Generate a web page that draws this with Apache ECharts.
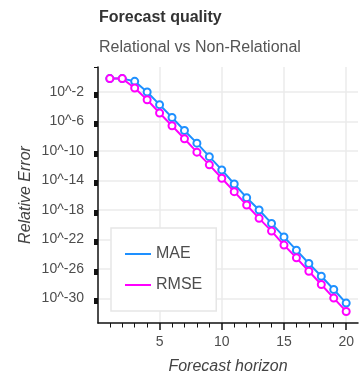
<!DOCTYPE html>
<html>
<head>
<meta charset="utf-8">
<script src="https://cdn.jsdelivr.net/npm/echarts@6/dist/echarts.min.js"></script>
<style>
html,body{margin:0;padding:0;background:#fff;}
#chart{width:362px;height:375px;}
</style>
</head>
<body>
<div id="chart"></div>
<script>
// ---- data ----
const horizons = [1, 2, 3, 4, 5, 6, 7, 8, 9, 10, 11, 12, 13, 14, 15, 16, 17, 18, 19, 20];
const maeValues = [6.5e-1, 6.5e-1, 2.8e-1, 1.0e-2, 1.9e-4, 3.5e-6, 6.0e-8, 1.15e-9, 1.7e-11, 2.7e-13,
                   3.3e-15, 4.6e-17, 9.8e-19, 1.5e-20, 2.2e-22, 3.5e-24, 5.4e-26, 1.0e-27, 1.6e-29, 2.3e-31];
const rmseValues = [6.5e-1, 6.5e-1, 3.5e-2, 8.9e-4, 1.4e-5, 2.6e-7, 4.5e-9, 6.9e-11, 1.3e-12, 2.0e-14,
                    3.0e-16, 4.7e-18, 7.2e-20, 1.35e-21, 1.7e-23, 3.2e-25, 4.9e-27, 7.6e-29, 1.1e-30, 1.7e-32];
const seriesNames = ['MAE', 'RMSE'];
const yTickExponents = [-30, -26, -22, -18, -14, -10, -6, -2];
const xTickLabels = [5, 10, 15, 20];

// ---- layout / style ----
const FONT = "'Liberation Sans', Arial, Helvetica, sans-serif";
const COLORS = ['#1E90FF', '#FF00FF'];
const X_MIN = 0.05, X_MAX = 20.95;
const Y_MIN = 4.6e-34, Y_MAX = 24.5;

const yMajor = yTickExponents.map(e => Math.pow(10, e));
const yMinor = [];
yTickExponents.concat([2]).forEach(e => {
  for (let k = 2; k <= 9; k++) yMinor.push(k * Math.pow(10, e - 1));
});
const yAllTicks = yMajor.concat(yMinor);
const xMinor = horizons.filter(h => xTickLabels.indexOf(h) < 0);

const chart = echarts.init(document.getElementById('chart'), null, {renderer: 'canvas'});

function makeSeries(name, values, color) {
  return {
    name: name,
    type: 'line',
    xAxisIndex: 0,
    yAxisIndex: 0,
    data: horizons.map((h, i) => [h, values[i]]),
    symbol: 'emptyCircle',
    symbolSize: 7,
    color: color,
    lineStyle: {width: 2, color: color},
    itemStyle: {color: color, borderWidth: 2},
    emphasis: {disabled: true}
  };
}

const option = {
  animation: false,
  textStyle: {fontFamily: FONT},
  title: [
    {text: 'Forecast quality', left: 99, top: 10, padding: 0,
     textStyle: {fontFamily: FONT, fontSize: 16, fontWeight: 'bold', color: '#333'}},
    {text: 'Relational vs Non-Relational', left: 99, top: 40, padding: 0,
     textStyle: {fontFamily: FONT, fontSize: 16, fontWeight: 'normal', color: '#555'}}
  ],
  grid: {left: 98, right: 4, top: 67, bottom: 52, containLabel: false, outerBoundsMode: 'none'},
  legend: {
    data: seriesNames,
    orient: 'vertical',
    left: 111,
    top: 228,
    icon: 'rect',
    itemWidth: 26,
    itemHeight: 2,
    itemGap: 15,
    padding: [18, 14, 18, 14],
    backgroundColor: '#fff',
    borderColor: '#e6e6e6',
    borderWidth: 1.5,
    textStyle: {fontFamily: FONT, fontSize: 16, color: '#4d4d4d'}
  },
  xAxis: [
    {
      type: 'value', min: X_MIN, max: X_MAX, position: 'bottom',
      name: 'Forecast horizon', nameLocation: 'middle', nameGap: 36, nameMoveOverlap: false,
      nameTextStyle: {fontFamily: FONT, fontStyle: 'italic', fontSize: 16, color: '#444'},
      axisLine: {show: true, onZero: false, lineStyle: {color: '#111', width: 1.5}},
      axisTick: {show: true, customValues: xTickLabels, length: 7, lineStyle: {color: '#111', width: 1.5}},
      axisLabel: {customValues: xTickLabels, margin: 12, fontFamily: FONT, fontSize: 14, color: '#4d4d4d'},
      splitLine: {show: true, lineStyle: {color: '#ebebeb', width: 1.5}}
    },
    {
      type: 'value', min: X_MIN, max: X_MAX, position: 'bottom',
      axisLine: {show: false, onZero: false},
      axisTick: {show: true, customValues: xMinor, length: 4.5, lineStyle: {color: '#111', width: 1}},
      axisLabel: {show: false},
      splitLine: {show: false}
    }
  ],
  yAxis: [
    {
      type: 'log', logBase: 10, min: Y_MIN, max: Y_MAX, position: 'left',
      name: 'Relative Error', nameLocation: 'middle', nameGap: 64, nameMoveOverlap: false,
      nameTextStyle: {fontFamily: FONT, fontStyle: 'italic', fontSize: 16, color: '#444'},
      axisLine: {show: true, onZero: false, lineStyle: {color: '#111', width: 1.5}},
      axisTick: {show: false, customValues: yMajor},
      axisLabel: {customValues: yMajor, margin: 14, fontFamily: FONT, fontSize: 14, color: '#4d4d4d',
                  formatter: v => '10^' + Math.round(Math.log10(v))},
      splitLine: {show: true, lineStyle: {color: '#ebebeb', width: 1.5}},
      minorTick: {show: false},
      minorSplitLine: {show: false}
    },
    {
      type: 'log', logBase: 10, min: Y_MIN, max: Y_MAX, position: 'left',
      axisLine: {show: false, onZero: false},
      axisTick: {show: true, customValues: yAllTicks, length: 4, lineStyle: {color: '#111', width: 1}},
      axisLabel: {show: false},
      splitLine: {show: false}
    }
  ],
  series: [
    makeSeries(seriesNames[0], maeValues, COLORS[0]),
    makeSeries(seriesNames[1], rmseValues, COLORS[1])
  ]
};
chart.setOption(option);
</script>
</body>
</html>
